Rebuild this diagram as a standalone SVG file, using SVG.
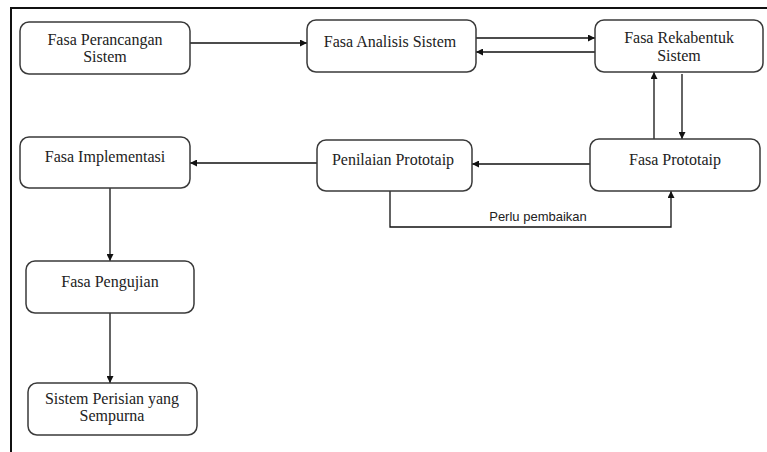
<svg xmlns="http://www.w3.org/2000/svg" width="767" height="452" viewBox="0 0 767 452">
<defs>
<marker id="ah" viewBox="0 0 10 10" refX="10" refY="5" markerWidth="7" markerHeight="7" markerUnits="userSpaceOnUse" orient="auto">
<path d="M0,0 L10,5 L0,10 z" fill="#111"/>
</marker>
</defs>
<style>
.box{fill:#fff;stroke:#3a3a3a;stroke-width:1.5}
.t{font-family:'Liberation Serif','Times New Roman','DejaVu Serif',serif;font-size:16px;fill:#222;text-anchor:middle}
.c{fill:none;stroke:#111;stroke-width:1.3}
.lbl{font-family:'Liberation Sans',Arial,sans-serif;font-size:13px;fill:#222;text-anchor:middle}
</style>
<rect width="767" height="452" fill="#fff"/>
<g id="frame">
<line x1="11" y1="8" x2="767" y2="8" stroke="#111" stroke-width="2"/>
<line x1="11" y1="7" x2="11" y2="452" stroke="#111" stroke-width="2"/>
</g>
<g id="connectors">
<line class="c" x1="190" y1="43" x2="307" y2="43" marker-end="url(#ah)"/>
<line class="c" x1="476" y1="38" x2="595" y2="38" marker-end="url(#ah)"/>
<line class="c" x1="595" y1="52" x2="476" y2="52" marker-end="url(#ah)"/>
<line class="c" x1="654" y1="139" x2="654" y2="72" marker-end="url(#ah)"/>
<line class="c" x1="682" y1="74" x2="682" y2="139" marker-end="url(#ah)"/>
<line class="c" x1="590" y1="164" x2="472" y2="164" marker-end="url(#ah)"/>
<line class="c" x1="317" y1="163" x2="190" y2="163" marker-end="url(#ah)"/>
<polyline class="c" points="390,191 390,227 671,227 671,191" marker-end="url(#ah)"/>
<line class="c" x1="110" y1="188" x2="110" y2="261" marker-end="url(#ah)"/>
<line class="c" x1="110" y1="313" x2="110" y2="383" marker-end="url(#ah)"/>
<text class="lbl" x="538" y="221">Perlu pembaikan</text>
</g>
<g id="perancangan">
<rect class="box" x="20" y="22" width="170" height="52" rx="9"/>
<text class="t" x="105" y="45" font-family="Liberation Serif, serif">Fasa Perancangan</text>
<text class="t" x="105" y="62" font-family="Liberation Serif, serif">Sistem</text>
</g>
<g id="analisis">
<rect class="box" x="307" y="20" width="169" height="52" rx="9"/>
<text class="t" x="390" y="47">Fasa Analisis Sistem</text>
</g>
<g id="rekabentuk">
<rect class="box" x="595" y="20" width="168" height="52" rx="9"/>
<text class="t" x="679" y="43">Fasa Rekabentuk</text>
<text class="t" x="679" y="61">Sistem</text>
</g>
<g id="implementasi">
<rect class="box" x="20" y="137" width="170" height="51" rx="9"/>
<text class="t" x="105" y="162">Fasa Implementasi</text>
</g>
<g id="penilaian">
<rect class="box" x="317" y="140" width="155" height="51" rx="9"/>
<text class="t" x="393" y="165">Penilaian Prototaip</text>
</g>
<g id="prototaip">
<rect class="box" x="590" y="139" width="170" height="52" rx="9"/>
<text class="t" x="675" y="165">Fasa Prototaip</text>
</g>
<g id="pengujian">
<rect class="box" x="26" y="261" width="168" height="52" rx="9"/>
<text class="t" x="110" y="287">Fasa Pengujian</text>
</g>
<g id="sempurna">
<rect class="box" x="28" y="383" width="169" height="52" rx="9"/>
<text class="t" x="112" y="404">Sistem Perisian yang</text>
<text class="t" x="112" y="421">Sempurna</text>
</g>
</svg>
